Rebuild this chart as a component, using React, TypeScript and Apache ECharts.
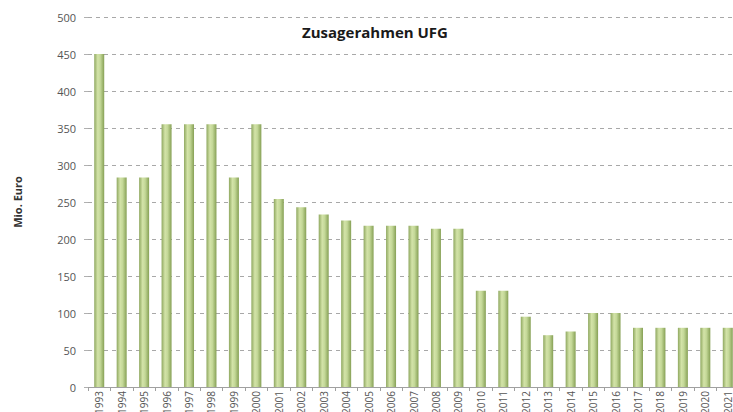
import React, { useEffect, useRef } from "react";
import * as echarts from "echarts";

const years = [
  "1993", "1994", "1995", "1996", "1997", "1998", "1999", "2000", "2001", "2002",
  "2003", "2004", "2005", "2006", "2007", "2008", "2009", "2010", "2011", "2012",
  "2013", "2014", "2015", "2016", "2017", "2018", "2019", "2020", "2021",
];
const values = [
  450, 283, 283, 355, 355, 355, 283, 355, 254, 243,
  233, 225, 218, 218, 218, 214, 214, 130, 130, 95,
  70, 75, 100, 100, 80, 80, 80, 80, 80,
];
const titleText = "Zusagerahmen UFG";
const yAxisName = "Mio. Euro";

export default function App() {
  const ref = useRef<HTMLDivElement>(null);
  useEffect(() => {
    if (!ref.current) return;
    const chart = echarts.init(ref.current, undefined, { renderer: "svg" });
    chart.setOption({
      animation: false,
      backgroundColor: "#ffffff",
      textStyle: { fontFamily: "Open Sans" },
      title: {
        text: titleText,
        left: 370,
        top: 19,
        textAlign: "center",
        textStyle: { fontSize: 15, fontWeight: "bold", color: "#1a1a1a", fontFamily: "Open Sans" },
      },
      grid: { left: 88, right: -6, top: 17, bottom: 25, containLabel: false, outerBoundsMode: "none" },
      xAxis: {
        type: "category",
        data: years,
        axisLine: { show: true, lineStyle: { color: "#a0a0a0", width: 1 } },
        axisTick: { show: true, alignWithLabel: false, length: 4, lineStyle: { color: "#a0a0a0" } },
        axisLabel: { rotate: 90, fontSize: 10, color: "#555", margin: 4, interval: 0 },
      },
      yAxis: {
        type: "value",
        min: 0,
        max: 500,
        interval: 50,
        name: yAxisName,
        nameLocation: "middle",
        nameRotate: 90,
        nameGap: 65,
        nameTextStyle: { fontSize: 11, fontWeight: "bold", color: "#333" },
        axisLine: { show: false },
        axisTick: { show: true, length: 4, lineStyle: { color: "#b0b0b0" } },
        axisLabel: { fontSize: 11, color: "#555", margin: 12 },
        splitLine: { show: true, lineStyle: { type: [4, 4], color: "#a8a8a8", width: 1 } },
      },
      series: [
        {
          type: "bar",
          data: values,
          barWidth: 10,
          itemStyle: {
            color: new echarts.graphic.LinearGradient(0, 0, 1, 0, [
              { offset: 0, color: "#8fa860" },
              { offset: 0.35, color: "#d3e3a8" },
              { offset: 0.6, color: "#c4d898" },
              { offset: 1, color: "#86a055" },
            ]),
          },
        },
      ],
    });
    return () => chart.dispose();
  }, []);
  return (
    <div
      ref={ref}
      style={{ position: "fixed", left: 0, top: 0, width: 733, height: 412 }}
    />
  );
}
